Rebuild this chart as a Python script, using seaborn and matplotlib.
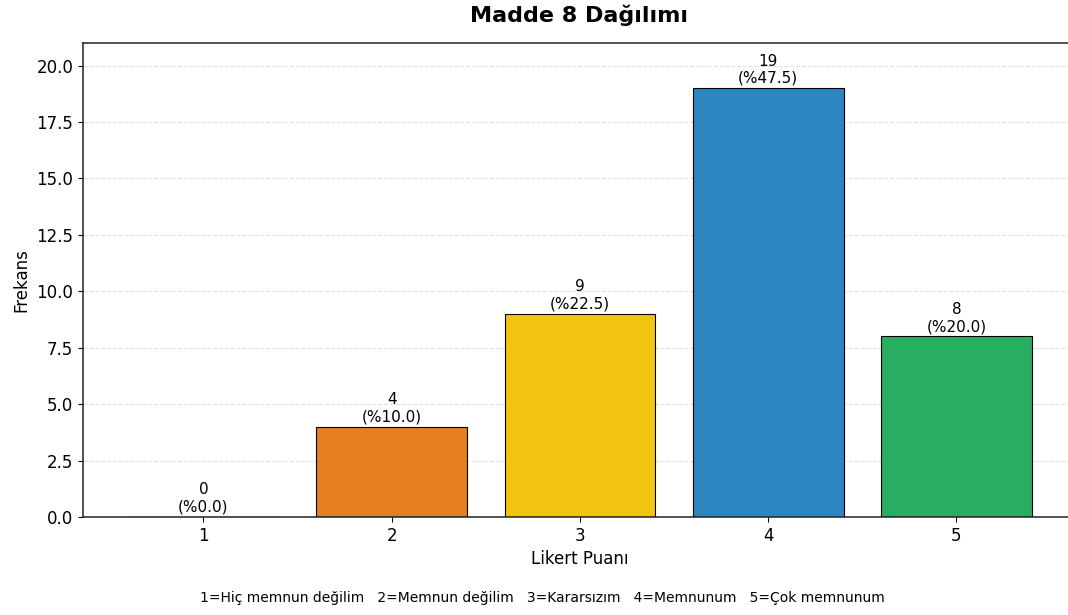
import matplotlib
matplotlib.use("Agg")
import matplotlib.pyplot as plt
import seaborn as sns
import pandas as pd

# Veriler
puanlar = ["1", "2", "3", "4", "5"]
frekans = [0, 4, 9, 19, 8]
yuzde = [0.0, 10.0, 22.5, 47.5, 20.0]
renkler = ["#e74c3c", "#e67e22", "#f1c40f", "#2e86c1", "#27ae60"]
aciklama = "1=Hiç memnun değilim   2=Memnun değilim   3=Kararsızım   4=Memnunum   5=Çok memnunum"

df = pd.DataFrame({"puan": puanlar, "frekans": frekans})

plt.rcParams['font.family'] = ['DejaVu Sans']

fig = plt.figure(figsize=(10.68, 6.15), dpi=100)
ax = fig.add_axes([0.0777, 0.1593, 0.9307, 0.7707])

sns.barplot(data=df, x="puan", y="frekans", hue="puan", palette=renkler,
            legend=False, width=0.8, edgecolor="black", linewidth=0.8,
            saturation=1, ax=ax)

for i, (f, p) in enumerate(zip(frekans, yuzde)):
    ax.text(i, f + 0.1, f"{f}\n(%{p:.1f})", ha="center", va="bottom",
            fontsize=11, linespacing=1.2)

ax.set_ylim(0, max(frekans) + 2)
ax.set_xlim(-0.64, 4.64)
ax.yaxis.grid(True, linestyle="--", alpha=0.3, color="#999999")
ax.set_axisbelow(True)
ax.tick_params(labelsize=12)
ax.set_xlabel("Likert Puanı", fontsize=12)
ax.set_ylabel("Frekans", fontsize=12)
for s in ax.spines.values():
    s.set_color("#222222")
    s.set_linewidth(1.1)

fig.text(0.5426, 0.976, "Madde 8 Dağılımı", ha="center", va="center",
         fontsize=16, fontweight="bold")
fig.text(0.5075, 0.027, aciklama, ha="center", va="center", fontsize=10)

fig.savefig("out.png", dpi=100)
